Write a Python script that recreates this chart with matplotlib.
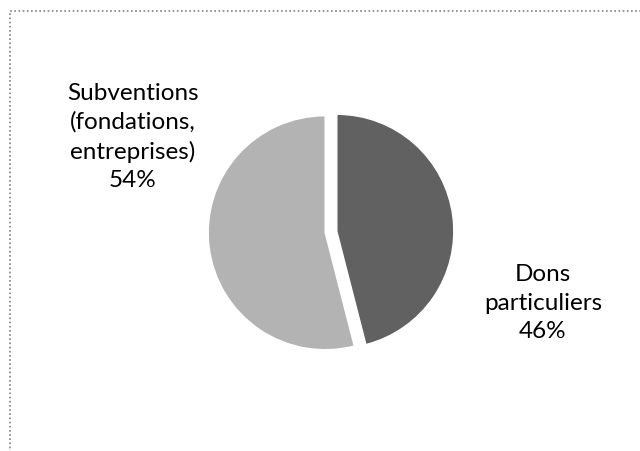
import matplotlib
matplotlib.use("Agg")
import matplotlib.pyplot as plt
from matplotlib.patches import Rectangle

# -----------------------------
# Data
# -----------------------------
labels = ["Dons\nparticuliers", "Subventions\n(fondations,\nentreprises)"]
shares = [46, 54]
colors = ["#616161", "#b3b3b3"]

W, H = 640, 452
fig = plt.figure(figsize=(W / 100, H / 100), dpi=100)
ax = fig.add_axes([0, 0, 1, 1])

# -----------------------------
# Pie (clockwise from 12 o'clock, both slices pulled out a bit)
# -----------------------------
r = 117
ax.pie(shares, colors=colors, startangle=90, counterclock=False,
       explode=[0.05 * r, 0.05 * r], center=(331, H - 233), radius=r,
       wedgeprops=dict(edgecolor="white", linewidth=1), frame=True)

ax.set_xlim(0, W)
ax.set_ylim(0, H)
ax.set_aspect("equal")
ax.axis("off")

# -----------------------------
# Labels
# -----------------------------
label_pos = [(543, H - 303), (133, H - 137)]
for (x, y), lab, v in zip(label_pos, labels, shares):
    ax.text(x, y, f"{lab}\n{v}%", ha="center", va="center",
            fontsize=17.5, family="Lato", linespacing=1.42, color="black")

# dotted frame (only top and left edges fall inside the picture)
fig.patches.append(Rectangle((9.5 / W, 0 - 0.1), 1.2, 1 - 11.5 / H + 0.1,
                             transform=fig.transFigure, fill=False,
                             edgecolor="#808080", linestyle=(0, (1, 1.5)),
                             linewidth=1.2))

fig.savefig("out.png", dpi=100)
